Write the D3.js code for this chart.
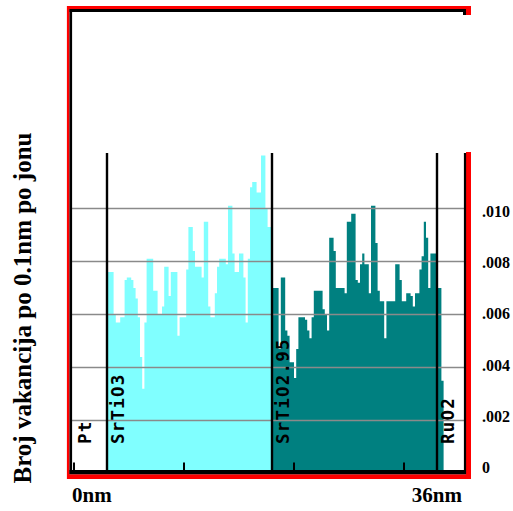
<!DOCTYPE html>
<html>
<head>
<meta charset="utf-8">
<script src="https://cdn.jsdelivr.net/npm/d3@7/dist/d3.min.js"></script>
<style>
  html, body { margin: 0; padding: 0; background: #ffffff; }
  svg { display: block; }
</style>
</head>
<body>
<div id="chart"></div>
<script>
// Vacancy profile across a Pt / SrTiO3 / SrTiO2.95 / RuO2 stack
const depthDomain = [0, 36];                 // nm
const binWidth = 0.2;                        // nm per bar
const layerNames = ["Pt", "SrTiO3", "SrTiO2.95", "RuO2"];
const layerStarts = [0, 3, 18, 33];          // nm
const layerBounds = [3, 18, 33];             // interfaces, nm
const depthTicks = [0, 10, 20, 30];
const depthLabels = ["0nm", "36nm"];
const yTicks = [0, 0.002, 0.004, 0.006, 0.008, 0.010];
const yTickLabels = ["0", ".002", ".004", ".006", ".008", ".010"];
const yTitle = "Broj vakancija po 0.1nm po jonu";

// SrTiO3 layer, bins starting at 3 nm
const srtio3Start = 3;
const srtio3Values = [
  0.0076, 0.0076, 0.0076, 0.0060, 0.0057, 0.0057, 0.0059, 0.0059, 0.0073, 0.0074,
  0.0074, 0.0073, 0.0070, 0.0066, 0.0059, 0.0044, 0.0032, 0.0057, 0.0081, 0.0081,
  0.0081, 0.0069, 0.0069, 0.0060, 0.0060, 0.0063, 0.0078, 0.0078, 0.0067, 0.0076,
  0.0076, 0.0076, 0.0052, 0.0059, 0.0059, 0.0059, 0.0077, 0.0093, 0.0093, 0.0084,
  0.0078, 0.0078, 0.0078, 0.0074, 0.0095, 0.0095, 0.0063, 0.0059, 0.0059, 0.0068,
  0.0078, 0.0081, 0.0081, 0.0081, 0.0079, 0.0101, 0.0101, 0.0083, 0.0076, 0.0076,
  0.0083, 0.0083, 0.0074, 0.0057, 0.0081, 0.0108, 0.0110, 0.0110, 0.0106, 0.0106,
  0.0120, 0.0120, 0.0100, 0.0093, 0.0093
];

// SrTiO2.95 layer, bins starting at 18 nm (tail reaches into RuO2)
const srtio295Start = 18;
const srtio295Values = [
  0.0070, 0.0070, 0.0070, 0.0047, 0.0074, 0.0074, 0.0054, 0.0052, 0.0042, 0.0042,
  0.0036, 0.0047, 0.0059, 0.0059, 0.0059, 0.0058, 0.0054, 0.0051, 0.0059, 0.0069,
  0.0069, 0.0069, 0.0069, 0.0062, 0.0060, 0.0054, 0.0089, 0.0089, 0.0084, 0.0070,
  0.0070, 0.0070, 0.0070, 0.0068, 0.0095, 0.0095, 0.0098, 0.0098, 0.0073, 0.0072,
  0.0079, 0.0083, 0.0079, 0.0079, 0.0068, 0.0101, 0.0101, 0.0087, 0.0069, 0.0065,
  0.0065, 0.0051, 0.0065, 0.0065, 0.0065, 0.0065, 0.0079, 0.0079, 0.0073, 0.0065,
  0.0065, 0.0068, 0.0068, 0.0067, 0.0063, 0.0068, 0.0068, 0.0077, 0.0082, 0.0095,
  0.0089, 0.0070, 0.0083, 0.0083, 0.0083, 0.0070, 0.0070, 0.0035
];

const W = 513, H = 511;
const svg = d3.select("#chart").append("svg")
  .attr("width", W).attr("height", H);

const x = d3.scaleLinear().domain(depthDomain).range([74, 470]);
const y = d3.scaleLinear().domain([0, 0.010]).range([473.5, 208.5]);
// tick labels sit on a slightly tighter ladder than the grid
const yLabel = d3.scaleLinear().domain([0, 0.010]).range([467.5, 211]);

const plotLeft = 72, plotRight = 465;

// step profile for one layer
function stepPoints(start, values) {
  const pts = values.map((v, i) => ({ d: start + i * binWidth, v }));
  pts.push({ d: start + values.length * binWidth, v: values[values.length - 1] });
  return pts;
}
const area = d3.area()
  .x(p => x(p.d))
  .y0(y(0))
  .y1(p => y(p.v))
  .curve(d3.curveStepAfter);

svg.append("path").datum(stepPoints(srtio3Start, srtio3Values))
  .attr("d", area).attr("fill", "#80ffff");
svg.append("path").datum(stepPoints(srtio295Start, srtio295Values))
  .attr("d", area).attr("fill", "#008080");

// horizontal grid lines
svg.append("g").selectAll("line")
  .data(yTicks.filter(t => t > 0))
  .join("line")
  .attr("x1", plotLeft).attr("x2", plotRight)
  .attr("y1", d => y(d)).attr("y2", d => y(d))
  .attr("stroke", "#8a8a8a").attr("stroke-width", 1.5);

// interface lines
svg.append("g").selectAll("line")
  .data(layerBounds)
  .join("line")
  .attr("x1", d => x(d)).attr("x2", d => x(d))
  .attr("y1", 153).attr("y2", 472)
  .attr("stroke", "#000").attr("stroke-width", 2.4);

// depth ticks along the bottom
svg.append("g").selectAll("line")
  .data(depthTicks)
  .join("line")
  .attr("x1", d => x(d)).attr("x2", d => x(d))
  .attr("y1", 462.5).attr("y2", 471)
  .attr("stroke", "#000").attr("stroke-width", 2);

// layer names, rotated
svg.append("g").selectAll("text")
  .data(layerNames)
  .join("text")
  .attr("transform", (d, i) => `translate(${x(layerStarts[i]) + 16.5},444) rotate(-90)`)
  .attr("font-family", "'DejaVu Sans Mono', monospace")
  .attr("font-weight", "bold")
  .attr("font-size", 17.5)
  .attr("letter-spacing", 1.2)
  .attr("fill", "#000")
  .text(d => d);

// frame: red outer edge, black inner edge
const frame = svg.append("g").attr("fill", "none");
const seg = (g, x1, y1, x2, y2, c, w) => g.append("line")
  .attr("x1", x1).attr("y1", y1).attr("x2", x2).attr("y2", y2)
  .attr("stroke", c).attr("stroke-width", w);
seg(frame, 67, 7.5, 471, 7.5, "#ff0000", 3);
seg(frame, 68.2, 6, 68.2, 479, "#ff0000", 2.6);
seg(frame, 67, 476.7, 471, 476.7, "#ff0000", 4.7);
seg(frame, 468.5, 152, 468.5, 479, "#ff0000", 5);
seg(frame, 468, 6, 468, 15, "#ff0000", 6);
seg(frame, 69.5, 10.5, 466, 10.5, "#000", 3);
seg(frame, 70.8, 9, 70.8, 474, "#000", 2.6);
seg(frame, 69.5, 472.2, 466, 472.2, "#000", 4.3);
seg(frame, 465, 153, 465, 474, "#000", 2.2);
seg(frame, 464.5, 9, 464.5, 15, "#000", 3);

// right-hand value labels
svg.append("g").selectAll("text")
  .data(yTicks)
  .join("text")
  .attr("x", 482)
  .attr("y", d => yLabel(d))
  .attr("dy", "0.35em")
  .attr("font-family", "'Liberation Serif', 'Times New Roman', serif")
  .attr("font-weight", "bold")
  .attr("font-size", 16)
  .attr("fill", "#000")
  .text((d, i) => yTickLabels[i]);

// depth end labels
svg.append("text")
  .attr("x", x(depthDomain[0]) - 2).attr("y", 502)
  .attr("font-family", "'Liberation Serif', 'Times New Roman', serif")
  .attr("font-weight", "bold").attr("font-size", 21)
  .text(depthLabels[0]);
svg.append("text")
  .attr("x", x(depthDomain[1]) - 8).attr("y", 502)
  .attr("text-anchor", "end")
  .attr("font-family", "'Liberation Serif', 'Times New Roman', serif")
  .attr("font-weight", "bold").attr("font-size", 21)
  .text(depthLabels[1]);

// vertical axis title
svg.append("text")
  .attr("transform", "translate(31,308) rotate(-90)")
  .attr("text-anchor", "middle")
  .attr("font-family", "'Liberation Serif', 'Times New Roman', serif")
  .attr("font-weight", "bold").attr("font-size", 25)
  .text(yTitle);
</script>
</body>
</html>
